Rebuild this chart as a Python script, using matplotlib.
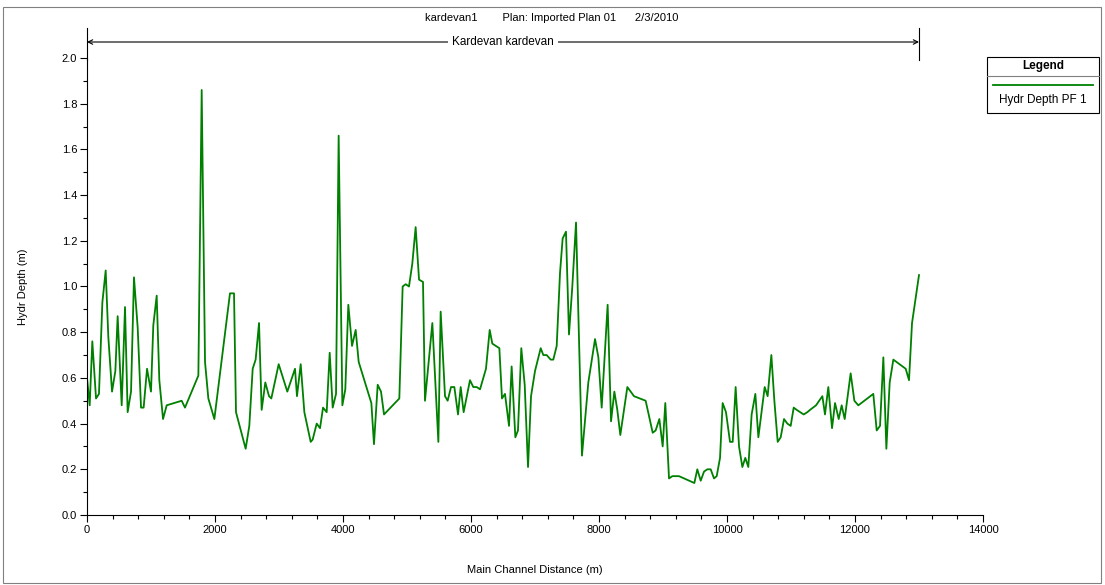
import matplotlib
matplotlib.use("Agg")
import matplotlib.pyplot as plt
from matplotlib.patches import Rectangle
from matplotlib.lines import Line2D
from matplotlib.ticker import MultipleLocator

plt.rcParams['font.family'] = ['Liberation Sans', 'DejaVu Sans']
plt.rcParams['font.size'] = 8

# profile: main channel distance (m) and hydraulic depth (m)
distance = [0, 42, 83, 141, 187, 240, 292, 333, 391, 443, 479, 542, 594, 635, 688,
            734, 792, 844, 885, 938, 1000, 1036, 1089, 1130, 1188, 1245, 1479, 1531,
            1740, 1792, 1844, 1896, 1990, 2234, 2297, 2328, 2479, 2536, 2589, 2635,
            2688, 2729, 2786, 2844, 2880, 2995, 3130, 3250, 3281, 3339, 3396, 3495,
            3526, 3589, 3641, 3688, 3745, 3792, 3839, 3891, 3932, 3990, 4036, 4083,
            4141, 4198, 4245, 4443, 4484, 4542, 4594, 4641, 4880, 4932, 4979, 5031,
            5083, 5135, 5188, 5250, 5281, 5396, 5490, 5526, 5594, 5635, 5688, 5740,
            5797, 5839, 5885, 5984, 6036, 6089, 6141, 6234, 6292, 6333, 6443, 6484,
            6531, 6594, 6635, 6693, 6734, 6786, 6839, 6891, 6938, 7000, 7036, 7089,
            7130, 7182, 7245, 7286, 7339, 7391, 7432, 7484, 7531, 7583, 7641, 7734,
            7833, 7938, 7990, 8042, 8135, 8188, 8240, 8286, 8333, 8443, 8547, 8729,
            8839, 8885, 8943, 8995, 9036, 9094, 9146, 9250, 9490, 9536, 9589, 9641,
            9693, 9745, 9797, 9839, 9891, 9932, 9984, 10047, 10089, 10135, 10188,
            10240, 10286, 10333, 10385, 10443, 10490, 10589, 10635, 10693, 10740,
            10792, 10839, 10891, 10943, 10995, 11042, 11089, 11198, 11255, 11297,
            11391, 11490, 11531, 11583, 11641, 11688, 11745, 11792, 11839, 11932,
            11990, 12052, 12286, 12339, 12391, 12443, 12490, 12542, 12599, 12792,
            12844, 12891, 13000]
depth = [0.60, 0.48, 0.76, 0.51, 0.53, 0.93, 1.07, 0.78, 0.54, 0.63, 0.87, 0.48,
         0.91, 0.45, 0.54, 1.04, 0.82, 0.47, 0.47, 0.64, 0.54, 0.83, 0.96, 0.59,
         0.42, 0.48, 0.50, 0.47, 0.61, 1.86, 0.67, 0.51, 0.42, 0.97, 0.97, 0.45,
         0.29, 0.39, 0.64, 0.68, 0.84, 0.46, 0.58, 0.52, 0.51, 0.66, 0.54, 0.64,
         0.52, 0.66, 0.45, 0.32, 0.33, 0.40, 0.38, 0.47, 0.45, 0.71, 0.47, 0.53,
         1.66, 0.48, 0.55, 0.92, 0.74, 0.81, 0.67, 0.49, 0.31, 0.57, 0.54, 0.44,
         0.51, 1.00, 1.01, 1.00, 1.10, 1.26, 1.03, 1.02, 0.50, 0.84, 0.32, 0.89,
         0.52, 0.50, 0.56, 0.56, 0.44, 0.56, 0.45, 0.59, 0.56, 0.56, 0.55, 0.64,
         0.81, 0.75, 0.73, 0.51, 0.53, 0.39, 0.65, 0.34, 0.37, 0.73, 0.57, 0.21,
         0.52, 0.63, 0.67, 0.73, 0.70, 0.70, 0.68, 0.68, 0.74, 1.06, 1.21, 1.24,
         0.79, 1.00, 1.28, 0.26, 0.58, 0.77, 0.69, 0.47, 0.92, 0.41, 0.54, 0.46,
         0.35, 0.56, 0.52, 0.50, 0.36, 0.37, 0.42, 0.30, 0.49, 0.16, 0.17, 0.17,
         0.14, 0.20, 0.15, 0.19, 0.20, 0.20, 0.16, 0.17, 0.25, 0.49, 0.45, 0.32,
         0.32, 0.56, 0.30, 0.21, 0.25, 0.21, 0.44, 0.53, 0.34, 0.56, 0.52, 0.70,
         0.50, 0.32, 0.34, 0.42, 0.40, 0.39, 0.47, 0.46, 0.44, 0.45, 0.46, 0.48,
         0.52, 0.44, 0.56, 0.38, 0.49, 0.42, 0.48, 0.42, 0.62, 0.50, 0.48, 0.53,
         0.37, 0.39, 0.69, 0.29, 0.58, 0.68, 0.64, 0.59, 0.84, 1.05]

title_text = "kardevan1        Plan: Imported Plan 01      2/3/2010"
reach_name = "Kardevan kardevan"
series_name = "Hydr Depth PF 1"
reach_start, reach_end = 0, 13000

W, H = 1105, 585
fig = plt.figure(figsize=(W / 100, H / 100), dpi=100)


def fx(px):
    return px / W


def fy(py):
    return 1 - py / H


ax = fig.add_axes([fx(87), fy(515), fx(983) - fx(87), fy(58) - fy(515)])
ax.plot(distance, depth, color='#008000', lw=1.3)
ax.set_xlim(0, 14000)
ax.set_ylim(0, 2.0)
ax.xaxis.set_major_locator(MultipleLocator(2000))
ax.xaxis.set_minor_locator(MultipleLocator(400))
ax.yaxis.set_major_locator(MultipleLocator(0.2))
ax.yaxis.set_minor_locator(MultipleLocator(0.1))
ax.yaxis.set_major_formatter(matplotlib.ticker.FormatStrFormatter('%.1f'))
ax.spines['top'].set_visible(False)
ax.spines['right'].set_visible(False)
for s in ('left', 'bottom'):
    ax.spines[s].set_linewidth(0.8)
ax.tick_params(which='major', length=5, width=0.8, labelsize=8, pad=2)
ax.tick_params(which='minor', length=3, width=0.8)
ax.set_xlabel('Main Channel Distance (m)', fontsize=8, labelpad=22)
ax.set_ylabel('Hydr Depth (m)', fontsize=8, labelpad=24)

# reach extent marker above the plot
ya = 2.07
ax.annotate('', xy=(reach_start, ya), xytext=(reach_end, ya),
            arrowprops=dict(arrowstyle='<->', color='black', lw=0.8,
                            shrinkA=0, shrinkB=0), annotation_clip=False)
for xr in (reach_start, reach_end):
    ax.plot([xr, xr], [1.99, 2.13], color='black', lw=0.8, clip_on=False)
ax.text((reach_start + reach_end) / 2, ya, reach_name, ha='center', va='center',
        fontsize=8.5, bbox=dict(facecolor='white', edgecolor='none', pad=3),
        clip_on=False)

fig.text(fx(552), fy(18), title_text, ha='center', va='center', fontsize=8)

# outer frame
fig.add_artist(Rectangle((fx(3), fy(583)), fx(1101) - fx(3), fy(7) - fy(583),
                         transform=fig.transFigure, fill=False,
                         edgecolor='#808080', lw=0.8))

# legend box
lx0, lx1, ly0, ly1, lsep = 987, 1099, 57, 113, 76
fig.add_artist(Rectangle((fx(lx0), fy(ly1)), fx(lx1) - fx(lx0), fy(ly0) - fy(ly1),
                         transform=fig.transFigure, fill=False,
                         edgecolor='black', lw=0.8))
fig.add_artist(Line2D([fx(lx0), fx(lx1)], [fy(lsep), fy(lsep)],
                      transform=fig.transFigure, color='#808080', lw=0.8))
fig.text(fx((lx0 + lx1) / 2), fy(66), 'Legend', ha='center', va='center',
         fontsize=8.5, fontweight='bold')
fig.add_artist(Line2D([fx(lx0 + 6), fx(lx1 - 6)], [fy(85), fy(85)],
                      transform=fig.transFigure, color='#008000', lw=1.3))
fig.text(fx((lx0 + lx1) / 2), fy(100), series_name, ha='center', va='center',
         fontsize=8.5)

fig.savefig('out.png', dpi=100)
